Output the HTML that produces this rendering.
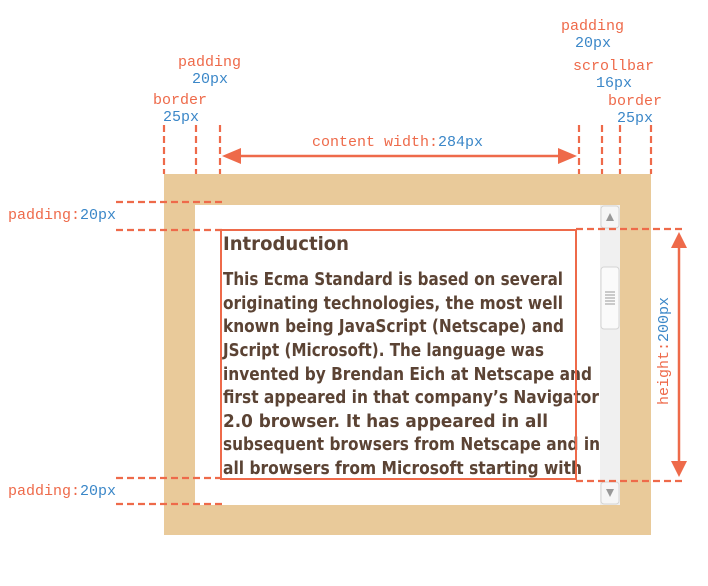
<!DOCTYPE html>
<html><head><meta charset="utf-8"><style>
body{margin:0;background:#fff;width:708px;height:586px;overflow:hidden}
svg{position:absolute;left:0;top:0}
.m{font-family:"Liberation Mono","DejaVu Sans Mono",monospace;font-size:15px}
.o{fill:#ee6a4a}.b{fill:#3b87c8}
.t{font-family:"DejaVu Sans","Liberation Sans",sans-serif;font-weight:bold;fill:#5b4334}
</style></head><body>
<svg width="708" height="586" viewBox="0 0 708 586">
<rect x="164" y="174" width="487" height="361" fill="#e9ca9a"/>
<rect x="195" y="205" width="425" height="300" fill="#fff"/>
<rect x="600" y="205" width="20" height="300" fill="#f0f0f0"/>
<rect x="601" y="206" width="18" height="22" rx="3" fill="#f6f6f6" stroke="#d4d4d4"/>
<path d="M606 221 L614 221 L610 213 Z" fill="#999"/>
<rect x="601" y="482" width="18" height="22" rx="3" fill="#f6f6f6" stroke="#d4d4d4"/>
<path d="M606 489 L614 489 L610 497 Z" fill="#999"/>
<rect x="601" y="267" width="18" height="62" rx="3" fill="#fafafa" stroke="#d4d4d4"/>
<g stroke="#999" stroke-width="1"><line x1="605" y1="292" x2="615" y2="292"/><line x1="605" y1="295" x2="615" y2="295"/><line x1="605" y1="298" x2="615" y2="298"/><line x1="605" y1="301" x2="615" y2="301"/><line x1="605" y1="304" x2="615" y2="304"/></g>
<g class="t">
<text x="223" y="250" font-size="19" textLength="126" lengthAdjust="spacingAndGlyphs">Introduction</text>
<g font-size="17.5">
<text x="223" y="285" textLength="340" lengthAdjust="spacingAndGlyphs">This Ecma Standard is based on several</text>
<text x="223" y="309" textLength="340" lengthAdjust="spacingAndGlyphs">originating technologies, the most well</text>
<text x="223" y="332" textLength="341" lengthAdjust="spacingAndGlyphs">known being JavaScript (Netscape) and</text>
<text x="223" y="356" textLength="321" lengthAdjust="spacingAndGlyphs">JScript (Microsoft). The language was</text>
<text x="223" y="380" textLength="369" lengthAdjust="spacingAndGlyphs">invented by Brendan Eich at Netscape and</text>
<text x="223" y="403" textLength="376" lengthAdjust="spacingAndGlyphs">first appeared in that company’s Navigator</text>
<text x="223" y="427" textLength="325" lengthAdjust="spacingAndGlyphs">2.0 browser. It has appeared in all</text>
<text x="223" y="450" textLength="377" lengthAdjust="spacingAndGlyphs">subsequent browsers from Netscape and in</text>
<text x="223" y="474" textLength="359" lengthAdjust="spacingAndGlyphs">all browsers from Microsoft starting with</text>
</g></g>
<rect x="221" y="230" width="355" height="249" fill="none" stroke="#ee6a4a" stroke-width="2"/>
<g stroke="#ee6a4a" stroke-width="2.2" stroke-dasharray="7,4" fill="none">
<line x1="164" y1="125" x2="164" y2="174"/><line x1="196" y1="125" x2="196" y2="174"/><line x1="220" y1="125" x2="220" y2="174"/>
<line x1="579" y1="125" x2="579" y2="174"/><line x1="602" y1="125" x2="602" y2="174"/><line x1="620" y1="125" x2="620" y2="174"/><line x1="651" y1="125" x2="651" y2="174"/>
<line x1="116" y1="202" x2="222" y2="202"/><line x1="116" y1="230" x2="222" y2="230"/>
<line x1="116" y1="478" x2="222" y2="478"/><line x1="116" y1="504" x2="222" y2="504"/>
<line x1="576" y1="229" x2="684" y2="229"/><line x1="576" y1="481" x2="684" y2="481"/>
</g>
<g stroke="#ee6a4a" stroke-width="2.5"><line x1="235" y1="156" x2="565" y2="156"/><line x1="679" y1="245" x2="679" y2="463"/></g>
<g fill="#ee6a4a"><path d="M222 156 L241 148 L241 164 Z"/><path d="M577 156 L558 148 L558 164 Z"/>
<path d="M679 232 L671 248 L687 248 Z"/><path d="M679 477 L671 461 L687 461 Z"/></g>
<g class="m">
<text x="178" y="66" class="o">padding</text><text x="192" y="83" class="b">20px</text>
<text x="153" y="104" class="o">border</text><text x="163" y="121" class="b">25px</text>
<text x="561" y="30" class="o">padding</text><text x="575" y="47" class="b">20px</text>
<text x="573" y="70" class="o">scrollbar</text><text x="596" y="87" class="b">16px</text>
<text x="608" y="105" class="o">border</text><text x="617" y="122" class="b">25px</text>
<text x="312" y="146"><tspan class="o">content width:</tspan><tspan class="b">284px</tspan></text>
<text x="8" y="219"><tspan class="o">padding:</tspan><tspan class="b">20px</tspan></text>
<text x="8" y="495"><tspan class="o">padding:</tspan><tspan class="b">20px</tspan></text>
<text transform="translate(668,405) rotate(-90)"><tspan class="o">height:</tspan><tspan class="b">200px</tspan></text>
</g>
</svg>
</body></html>
